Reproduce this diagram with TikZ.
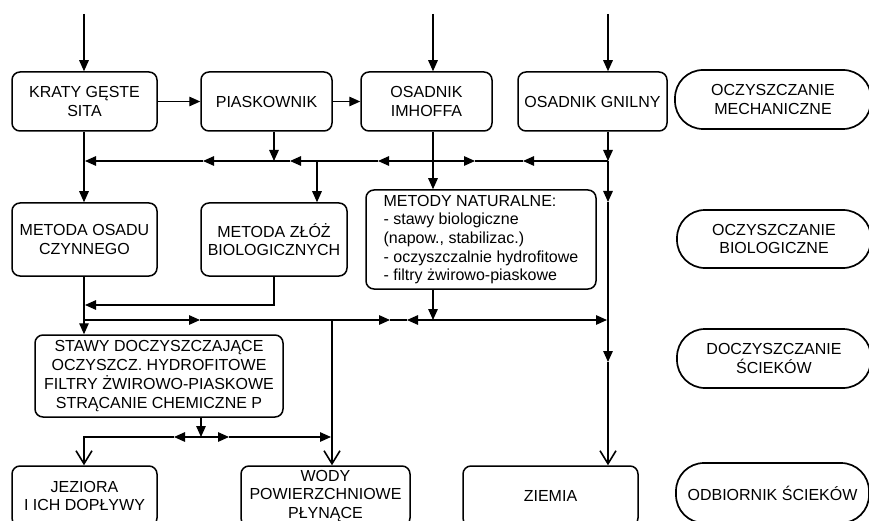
\documentclass[tikz,border=0pt]{standalone}
\usepackage{fontspec}
\setmainfont{Liberation Sans}
\usetikzlibrary{arrows.meta}
\tikzset{
  txt/.style={font=\fontsize{16}{18.7}\selectfont},
  box/.style={draw, line width=1.5pt, rounded corners=8pt, align=center, txt, inner sep=0pt},
  pill/.style={draw, line width=1.7pt, rounded corners=28pt, align=center, txt, inner sep=0pt},
  ln/.style={line width=1.4pt},
  tri/.style={ln, -{Triangle[length=11pt,width=9.5pt]}},
  vee/.style={ln, -{Straight Barb[length=13pt,width=16pt,line width=1.6pt]}},
}
\begin{document}
\begin{tikzpicture}[x=1pt,y=-1pt]
\useasboundingbox (0,0) rectangle (869,521);
\clip (0,0) rectangle (869,521);

% nodes
\node[box, minimum width=145, minimum height=59] (krata) at (84.5,101.5) {KRATY GĘSTE\\SITA};
\node[box, minimum width=131, minimum height=59] (piask) at (266.5,101.5) {PIASKOWNIK};
\node[box, minimum width=131, minimum height=59] (imhoff) at (426.5,101.5) {OSADNIK\\IMHOFFA};
\node[box, minimum width=149, minimum height=59] (gnilny) at (592.5,101.5) {OSADNIK GNILNY};
\node[pill, minimum width=196, minimum height=59] (mech) at (773,99.5) {OCZYSZCZANIE\\MECHANICZNE};

\node[box, minimum width=145, minimum height=73] (osad) at (84.5,239.5) {METODA OSADU\\CZYNNEGO};
\node[box, minimum width=146, minimum height=73] (zloz) at (274,239.5) {METODA ZŁÓŻ\\BIOLOGICZNYCH};
\node[box, align=left, minimum width=230, minimum height=99] (natur) at (481,239.5)
  {METODY NATURALNE:\\- stawy biologiczne\\(napow., stabilizac.)\\- oczyszczalnie hydrofitowe\\- filtry żwirowo-piaskowe};
\node[pill, minimum width=194, minimum height=58] (bio) at (774,239) {OCZYSZCZANIE\\BIOLOGICZNE};

\node[box, minimum width=248, minimum height=82] (stawy) at (159,376)
  {STAWY DOCZYSZCZAJĄCE\\OCZYSZCZ. HYDROFITOWE\\FILTRY ŻWIROWO-PIASKOWE\\STRĄCANIE CHEMICZNE P};
\node[pill, minimum width=194, minimum height=59] (docz) at (774,358.5) {DOCZYSZCZANIE\\ŚCIEKÓW};

\node[box, minimum width=145, minimum height=60] (jez) at (84.5,496) {JEZIORA\\I ICH DOPŁYWY};
\node[box, minimum width=169, minimum height=60] (wody) at (325.5,496) {WODY\\POWIERZCHNIOWE\\PŁYNĄCE};
\node[box, minimum width=175, minimum height=60] (ziemia) at (550.5,496) {ZIEMIA};
\node[pill, minimum width=193, minimum height=60] (odb) at (772.5,493) {ODBIORNIK ŚCIEKÓW};

% coordinates
\coordinate (in1) at (84,14);
\coordinate (in2) at (433,14);
\coordinate (in3) at (608,14);
\coordinate (b1L) at (84,161);
\coordinate (b1Le) at (85,161);
\coordinate (b1p) at (274,161);
\coordinate (b1z) at (317,161);
\coordinate (b1i) at (433,161);
\coordinate (b1g) at (608,161);
\coordinate (a203) at (203,161);
\coordinate (a290) at (290,161);
\coordinate (a378) at (378,161);
\coordinate (a475) at (475,161);
\coordinate (a523) at (523,161);
\coordinate (g202) at (608,202);
\coordinate (g362) at (608,362);
\coordinate (z305) at (274,305);
\coordinate (l305) at (85,305);
\coordinate (b2L) at (84,320);
\coordinate (c200) at (200,320);
\coordinate (b2w) at (332,320);
\coordinate (c390) at (390,320);
\coordinate (c407) at (407,320);
\coordinate (b2i) at (433,320);
\coordinate (b2g) at (607,320);
\coordinate (s201) at (201,437);
\coordinate (d174) at (174,437);
\coordinate (d229) at (229,437);
\coordinate (dL) at (84,437);
\coordinate (dW) at (331,437);

% inputs and top row
\draw[tri] (in1) -- (in1 |- krata.north);
\draw[tri] (in2) -- (in2 |- imhoff.north);
\draw[tri] (in3) -- (in3 |- gnilny.north);
\draw[tri] (krata.east) -- (piask.west);
\draw[tri] (piask.east) -- (imhoff.west);

% bus 1
\draw[tri] (b1p |- piask.south) -- (b1p);
\draw[tri] (b1g |- gnilny.south) -- (b1g);
\draw[tri] (b1g) -- (a523);
\draw[ln] (a523) -- (a475);
\draw[tri] (b1i) -- (a475);
\draw[tri] (b1i) -- (a378);
\draw[tri] (a378) -- (a290);
\draw[tri] (a290) -- (a203);
\draw[tri] (a203) -- (b1Le);
\draw[tri] (b1L |- krata.south) -- (b1L |- osad.north);
\draw[tri] (b1z) -- (b1z |- zloz.north);
\draw[tri] (b1i |- imhoff.south) -- (b1i |- natur.north);

% right vertical
\draw[tri] (b1g) -- (g202);
\draw[tri] (g202) -- (g362);
\draw[vee] (g362) -- (b1g |- ziemia.north);

% second level
\draw[tri] (b1L |- osad.south) -- (b1L |- stawy.north);
\draw[tri] (b1p |- zloz.south) -- (z305) -- (l305);
\draw[tri] (b2L) -- (c200);
\draw[tri] (c200) -- (c390);
\draw[ln] (c390) -- (c407);
\draw[tri] (b2i) -- (c407);
\draw[tri] (b2i) -- (b2g);
\draw[tri] (b1i |- natur.south) -- (b2i);
\draw[vee] (b2w) -- (b2w |- wody.north);

% third level
\draw[tri] (s201 |- stawy.south) -- (s201);
\draw[tri] (s201) -- (d174);
\draw[vee] (d174) -- (dL) -- (dL |- jez.north);
\draw[tri] (s201) -- (d229);
\draw[tri] (d229) -- (dW);
\end{tikzpicture}
\end{document}
